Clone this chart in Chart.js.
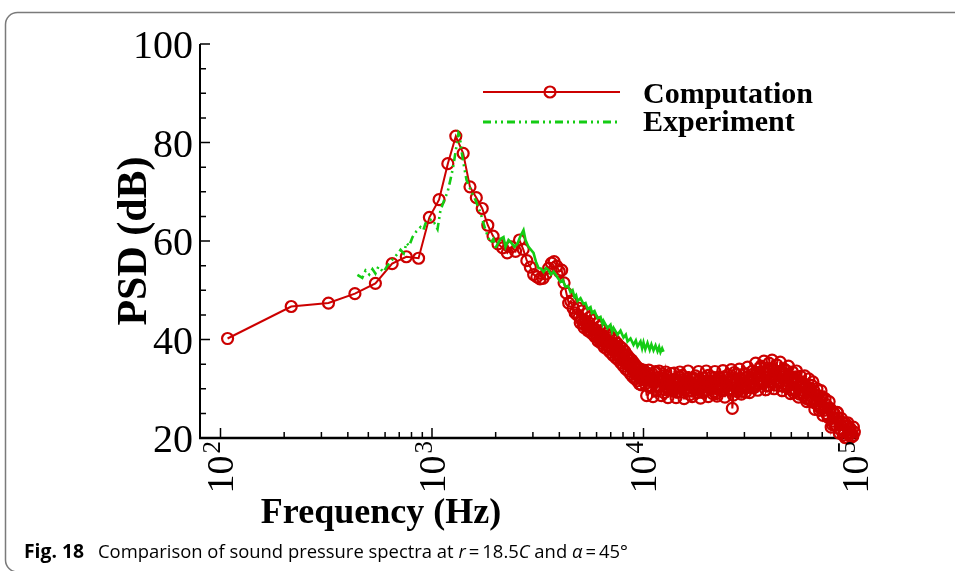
<!DOCTYPE html>
<html><head><meta charset="utf-8">
<script src="https://cdn.jsdelivr.net/npm/chart.js@4.4.1/dist/chart.umd.min.js"></script>
<style>html,body{margin:0;padding:0;background:#fff;}canvas{display:block;}</style>
</head><body>
<canvas id="c" width="955" height="571"></canvas>
<script>
// ---------- data ----------
const seriesNames = ['Computation', 'Experiment'];
const xTitle = 'Frequency (Hz)';
const yTitle = 'PSD (dB)';
const xTickExponents = [2, 3, 4, 5];
const yTickValues = [20, 40, 60, 80, 100];
const captionLabel = 'Fig. 18';

// Computation: main run of points
const compFreq = [108,216,324,432,540,648,756,864,972,1080,1188,1296,1404,1512,1620,1728,1836,1944,2052,2160,2268,2376,2484,2592,2700,2808,2916,3024,3132,3240,3348,3456,3564,3672,3780,3888,3996,4104,4212,4320,4428,4536,4644,4752,4860,4968,5076,5184,5292,5400,5508,5616,5724,5832,5940,6048,6156,6264,6372,6480,6588,6696,6804,6912,7020,7128,7236,7344,7452,7560,7668,7776,7884,7992,8100,8208,8316,8424,8532,8640,8748,8856,8964,9072,9180,9288,9396,9504,9612,9720,9828,9936,
10000,10200,10500,10700,11000,11200,11500,11700,12000,12300,12600,12900,13200,13500,13800,14100,14400,14700,15000,15400,15700,16100,16400,16800,17200,17600,18000,18400,18800,19200,19600,20000,20500,21000,21500,22000,22500,23000,23500,24000,24500,25100,25700,26300,26900,27500,28100,28700,29400,30000,30700,31400,32100,32800,33500,34300,35100,35900,36700,37500,38300,39200,40100,41000,41900,42800,43800,44800,45800,46800,47900,49000,50100,51200,52300,53500,54700,55900,57200,58500,59800,61100,62500,63900,65300,66800,68300,69800,71400,73000,74600,76300,78000,79700,81500,83300,85200,87100,89000,91000,93000,95100,97200,99300];
const compPsd = [40.2,46.7,47.4,49.3,51.4,55.4,56.8,56.5,64.8,68.4,75.7,81.3,77.8,71.0,68.8,66.6,63.2,61.0,59.4,58.6,57.6,58.8,57.9,60.2,58.3,56.0,54.7,53.2,52.7,52.3,52.4,53.3,54.5,55.5,55.8,54.9,53.8,54.1,51.5,49.4,47.4,47.8,46.4,45.4,45.0,44.6,44.1,43.2,43.8,
42.6,43.4,41.8,42.2,41.0,42.0,40.4,41.2,39.8,40.9,39.6,40.2,38.8,39.7,38.6,39.3,37.9,38.9,37.6,38.4,36.9,37.8,36.6,37.4,36.0,36.8,35.4,36.3,34.9,35.8,34.6,35.2,33.9,34.8,33.5,34.3,32.8,33.9,32.6,33.4,32.2,33.2,31.8,
33.8,31.0,32.4,30.4,33.0,31.2,29.6,32.3,30.5,32.6,29.8,31.6,30.1,33.1,29.5,31.5,30.2,32.4,29.3,31.8,30.0,32.0,29.6,31.3,30.4,32.6,29.2,31.0,30.1,32.2,29.7,31.5,30.3,32.4,29.4,31.7,30.0,32.1,29.6,31.4,30.5,32.8,29.9,26.0,31.0,32.9,29.8,31.8,30.3,33.1,30.2,32.4,30.6,33.6,30.8,32.9,31.0,34.6,31.2,33.4,30.6,35.2,31.5,33.8,30.8,34.8,31.2,33.6,30.5,33.0,30.6,32.6,29.8,32.3,29.6,31.8,28.9,31.2,28.6,30.6,28.0,30.2,27.4,29.6,27.0,28.6,26.2,28.0,25.6,26.8,24.2,26.0,23.4,25.0,22.6,24.0,21.8,23.2,21.4,22.4,20.8,21.9,20.5,21.2];

// Computation: in-between points of the dense high-frequency band
const bandFreq = [4914,5022,5130,5238,5346,5454,5562,5670,5778,5886,5994,6102,6210,6318,6426,6534,6642,6750,6858,6966,7074,7182,7290,7398,7506,7614,7722,7830,7938,8046,8154,8262,8370,8478,8586,8694,8802,8910,9018,9126,9234,9342,9450,9558,9666,9774,9882,
10100,10350,10600,10850,11100,11350,11600,11850,12150,12450,12750,13050,13350,13650,13950,14250,14550,14850,15200,15550,15900,16250,16600,17000,17400,17800,18200,18600,19000,19400,19800,20250,20750,21250,21750,22250,22750,23250,23750,24250,24800,25400,26000,26600,27200,27800,28400,29050,29700,30350,31050,31750,32450,33150,33900,34700,35500,36300,37100,37900,38750,39650,40550,41450,42350,43300,44300,45300,46300,47350,48450,49550,50650,51750,52900,54100,55300,56550,57850,59150,60450,61800,63200,64600,66050,67550,69050,70600,72200,73800,75450,77150,78850,80600,82400,84250,86150,88050,90000,92000,94050,96150,98250];
const bandPsd = [46.4,43.4,45.8,42.4,45.2,41.8,44.5,41.3,44.0,40.6,43.2,39.7,42.6,39.2,41.9,38.4,41.2,38.0,40.8,37.4,40.4,36.8,39.8,36.3,39.2,35.8,38.6,35.2,38.2,34.6,37.6,34.0,36.8,33.6,36.2,33.0,35.8,32.4,35.2,32.0,34.6,31.6,34.2,31.0,34.0,30.8,33.4,
32.0,28.6,33.8,31.6,28.4,33.2,30.6,33.6,28.6,31.0,33.4,28.2,31.4,29.8,33.2,28.2,30.9,33.4,30.0,28.0,31.1,33.6,29.6,28.4,32.0,29.8,33.5,28.1,31.2,29.6,33.6,28.4,30.8,29.0,33.5,28.5,31.0,29.8,33.7,28.3,31.3,30.0,33.9,28.7,31.1,29.4,34.0,28.9,31.7,29.3,34.4,29.2,32.0,30.2,35.2,29.7,33.4,31.2,35.6,29.8,33.6,31.4,35.8,30.0,33.6,31.6,35.4,29.6,34.0,30.6,34.6,29.0,33.4,30.0,33.6,28.3,32.5,29.2,32.6,27.4,32.0,27.8,31.4,25.8,30.0,26.6,29.6,24.6,28.0,24.8,27.4,22.2,25.2,22.6,25.2,21.0,24.0,20.6,23.0,20.0,22.0,20.2,22.2];

// Computation: further points filling the interior of the band
const fillFreq = [10050,10400,10750,11050,11400,11750,12100,12500,12850,13250,13650,14000,14400,14800,15250,15700,16150,16600,17100,17600,18100,18600,19150,19700,20250,20850,21450,22050,22700,23350,24000,24700,25400,26150,26900,27650,28450,29250,30100,30950,31850,32750,33700,34650,35650,36650,37700,38800,39900,41050,42200,43400,44650,45900,47200,48550,49950,51350,52800,54300,55850,57450,59050,60750,62450,64250,66050,67950,69850,71850,73900,76000,78150,80350,82650,85000,87400,89850,92400,95000,97700];
const fillPsd = [31.9,33.2,30.4,32.1,33.5,30.5,31.9,29.2,32.5,30.8,30.4,31.9,29.3,31.1,32.7,29.8,31.4,28.8,32.2,30.6,30.2,31.8,29.2,31.1,32.7,29.9,31.5,29.0,32.4,30.8,30.5,32.2,29.7,31.6,33.3,30.4,32.1,29.5,33.0,31.5,31.2,32.9,30.4,32.5,34.2,31.4,33.1,30.6,34.1,32.4,31.9,33.4,30.7,32.4,33.7,30.6,32.0,29.2,32.4,30.5,29.8,31.0,28.0,29.5,30.7,27.3,28.5,25.6,28.4,26.1,24.9,25.8,22.7,24.0,25.1,21.8,23.1,20.1,23.1,21.1,20.4];

// Experiment
const expFreq = [444,468,485,505,523,540,558,590,615,637,672,710,735,758,780,809,845,882,910,932,984,1010,1027,1062,1097,1125,1146,1184,1223,1250,1270,1291,1315,1334,1350,1364,1385,1409,1456,1521,1606,1696,1791,1891,1950,1996,2108,2178,2226,2300,2351,2456,2537,2620,2708,2768,2860,3020,3100,3188,3280,3367,3460,3555,3650,3754,3922,4051,4150,4278,4400,4516,4620,4718,4800,4875,5037,5203,5320,5436,5616,5700,5866,6061,6262,6400,6470,6758,6982,7100,7214,7537,7786,8044,8250,8404,8682,8970,9200,9368,9678,9850,10000,10200,10445,10700,10900,11150,11400,11648,11850,12032,12250,12433];
const expPsd = [53.1,52.5,54.0,53.2,54.3,53.4,54.8,53.7,55.0,55.8,56.9,58.2,57.5,59.6,59.0,60.8,62.0,62.8,62.2,63.6,64.3,63.5,63.6,62.4,66.3,67.5,68.5,69.9,72.5,74.4,76.0,78.0,80.0,81.9,81.5,80.0,77.8,75.8,72.4,70.4,68.3,65.7,62.2,59.6,60.4,58.6,60.4,60.8,58.8,60.2,59.8,58.8,59.5,61.0,62.2,60.2,58.8,57.6,55.8,54.5,54.4,53.7,54.5,54.1,53.2,53.8,52.6,51.7,52.1,50.7,50.9,49.6,50.0,48.6,49.0,47.8,48.4,47.2,47.4,46.2,46.6,45.4,45.8,44.3,44.6,43.1,43.8,42.3,43.0,41.6,42.4,41.0,41.8,40.4,41.0,39.6,40.2,38.9,39.8,38.6,39.6,38.2,39.4,38.0,39.3,37.9,39.0,37.8,38.8,37.6,38.5,37.4,38.2,37.5];

// ---------- styling ----------
const RED = '#cc0000';
const GREEN = '#14cc14';
const DASH = [8, 4, 2, 4, 2, 4];
const SERIF = '"Liberation Serif", "Times New Roman", serif';
const SANS = '"Open Sans", "Noto Sans", sans-serif';

const toXY = (xs, ys) => xs.map((v, i) => ({ x: v, y: ys[i] }));
const compData = toXY(compFreq, compPsd)
  .concat(toXY(bandFreq, bandPsd))
  .concat(toXY(fillFreq, fillPsd))
  .sort((p, q) => p.x - q.x);

const deco = {
  id: 'deco',
  beforeDatasetsDraw(chart) {
    const { ctx, scales: { x, y }, chartArea: a } = chart;
    ctx.save();
    // frame with rounded left corners
    ctx.strokeStyle = '#7a7a7a';
    ctx.lineWidth = 1.5;
    ctx.beginPath();
    ctx.moveTo(955, 12.5);
    ctx.lineTo(18, 12.5);
    ctx.arcTo(5.5, 12.5, 5.5, 26, 12);
    ctx.lineTo(5.5, 558);
    ctx.arcTo(5.5, 572, 18, 572, 12);
    ctx.stroke();

    // axes lines
    ctx.strokeStyle = '#000';
    ctx.lineWidth = 2;
    ctx.beginPath();
    ctx.moveTo(a.left, a.top);
    ctx.lineTo(a.left, a.bottom);
    ctx.stroke();
    ctx.lineWidth = 2.5;
    ctx.beginPath();
    ctx.moveTo(a.left - 1, a.bottom);
    ctx.lineTo(a.right + 1, a.bottom);
    ctx.stroke();

    // y ticks (inward)
    ctx.lineWidth = 1.5;
    ctx.beginPath();
    for (let i = 0; i < yTickValues.length; i++) {
      const v = yTickValues[i];
      const py = y.getPixelForValue(v);
      ctx.moveTo(a.left, py); ctx.lineTo(a.left + 10, py);
      if (i < yTickValues.length - 1) {
        const step = (yTickValues[i + 1] - v) / 4;
        for (let j = 1; j < 4; j++) {
          const pm = y.getPixelForValue(v + j * step);
          ctx.moveTo(a.left, pm); ctx.lineTo(a.left + 6, pm);
        }
      }
    }
    // x ticks (inward)
    for (let i = 0; i < xTickExponents.length; i++) {
      const e = xTickExponents[i];
      const px = x.getPixelForValue(Math.pow(10, e));
      ctx.moveTo(px, a.bottom); ctx.lineTo(px, a.bottom - 10);
      if (i < xTickExponents.length - 1) {
        for (let m = 2; m <= 9; m++) {
          const pm = x.getPixelForValue(m * Math.pow(10, e));
          ctx.moveTo(pm, a.bottom); ctx.lineTo(pm, a.bottom - 6);
        }
      }
    }
    ctx.stroke();
    ctx.restore();
  },
  afterDraw(chart) {
    const { ctx, scales: { x, y }, chartArea: a } = chart;
    ctx.save();
    ctx.fillStyle = '#000';

    // y tick labels
    ctx.font = '40px ' + SERIF;
    ctx.textAlign = 'right';
    ctx.textBaseline = 'alphabetic';
    yTickValues.forEach(v => {
      ctx.fillText(String(v), a.left - 7, y.getPixelForValue(v) + 14);
    });

    // x tick labels: 10^n rotated
    xTickExponents.forEach(e => {
      const px = x.getPixelForValue(Math.pow(10, e));
      ctx.save();
      ctx.translate(px, a.bottom + 3);
      ctx.rotate(-Math.PI / 2);
      ctx.textAlign = 'left';
      ctx.font = '38px ' + SERIF;
      const wBase = ctx.measureText('10').width;
      ctx.font = '25px ' + SERIF;
      const wExp = ctx.measureText(String(e)).width;
      const start = -(wBase + wExp + 2);
      ctx.font = '38px ' + SERIF;
      ctx.fillText('10', start, 13);
      ctx.font = '25px ' + SERIF;
      ctx.fillText(String(e), start + wBase + 2, 0);
      ctx.restore();
    });

    // axis titles
    ctx.font = 'bold 42px ' + SERIF;
    ctx.textAlign = 'center';
    ctx.save();
    ctx.translate(146, (a.top + a.bottom) / 2);
    ctx.rotate(-Math.PI / 2);
    ctx.fillText(yTitle, 0, 0);
    ctx.restore();
    ctx.font = 'bold 36px ' + SERIF;
    ctx.fillText(xTitle, 381, 523);

    // legend
    ctx.lineWidth = 2.2;
    ctx.strokeStyle = RED;
    ctx.beginPath(); ctx.moveTo(483, 92); ctx.lineTo(620, 92); ctx.stroke();
    ctx.beginPath(); ctx.arc(550, 92, 5.5, 0, Math.PI * 2); ctx.stroke();
    ctx.strokeStyle = GREEN;
    ctx.lineWidth = 2.8;
    ctx.setLineDash(DASH);
    ctx.beginPath(); ctx.moveTo(483, 122); ctx.lineTo(620, 122); ctx.stroke();
    ctx.setLineDash([]);
    ctx.font = 'bold 30px ' + SERIF;
    ctx.textAlign = 'left';
    ctx.fillStyle = '#000';
    ctx.fillText(seriesNames[0], 643, 103);
    ctx.fillText(seriesNames[1], 643, 131);

    // caption (condensed humanist sans)
    const parts = [
      ['Comparison of sound pressure spectra at ', ''],
      ['r', 'italic '],
      ['\u2009=\u200918.5', ''],
      ['C', 'italic '],
      [' and ', ''],
      ['\u03b1', 'italic '],
      ['\u2009=\u200945\u00b0', '']
    ];
    const FS = 19;
    let tot = 0;
    parts.forEach(p => { ctx.font = p[1] + FS + 'px ' + SANS; tot += ctx.measureText(p[0]).width; });
    const sx = 530 / tot;
    ctx.font = 'bold ' + FS + 'px ' + SANS;
    const wFig = ctx.measureText(captionLabel).width;
    ctx.save();
    ctx.translate(24, 558);
    ctx.scale(60 / wFig, 1);
    ctx.fillText(captionLabel, 0, 0);
    ctx.restore();
    ctx.save();
    ctx.translate(98, 558);
    ctx.scale(sx, 1);
    let cx = 0;
    parts.forEach(p => {
      ctx.font = p[1] + FS + 'px ' + SANS;
      ctx.fillText(p[0], cx, 0);
      cx += ctx.measureText(p[0]).width;
    });
    ctx.restore();
    ctx.restore();
  }
};

new Chart(document.getElementById('c'), {
  type: 'scatter',
  data: {
    datasets: [
      {
        label: seriesNames[1],
        data: toXY(expFreq, expPsd),
        showLine: true,
        borderColor: GREEN,
        backgroundColor: GREEN,
        borderWidth: 2.6,
        pointRadius: 0,
        borderDash: [],
        segment: { borderDash: c => (c.p1.parsed.x < 2000 ? DASH : undefined) },
        clip: false,
        order: 0
      },
      {
        label: seriesNames[0],
        data: compData,
        showLine: true,
        borderColor: RED,
        backgroundColor: 'rgba(0,0,0,0)',
        borderWidth: 2,
        pointRadius: 5.5,
        pointBorderWidth: 2.2,
        pointBorderColor: RED,
        pointBackgroundColor: 'rgba(0,0,0,0)',
        clip: false,
        order: 1
      }
    ]
  },
  options: {
    responsive: false,
    animation: false,
    devicePixelRatio: 1,
    layout: { padding: { left: 200, right: 100, top: 44, bottom: 133 } },
    plugins: { legend: { display: false }, tooltip: { enabled: false } },
    scales: {
      x: { type: 'logarithmic', min: 80, max: 100000, display: false },
      y: { type: 'linear', min: 20, max: 100, display: false }
    }
  },
  plugins: [deco]
});
</script>
</body></html>
